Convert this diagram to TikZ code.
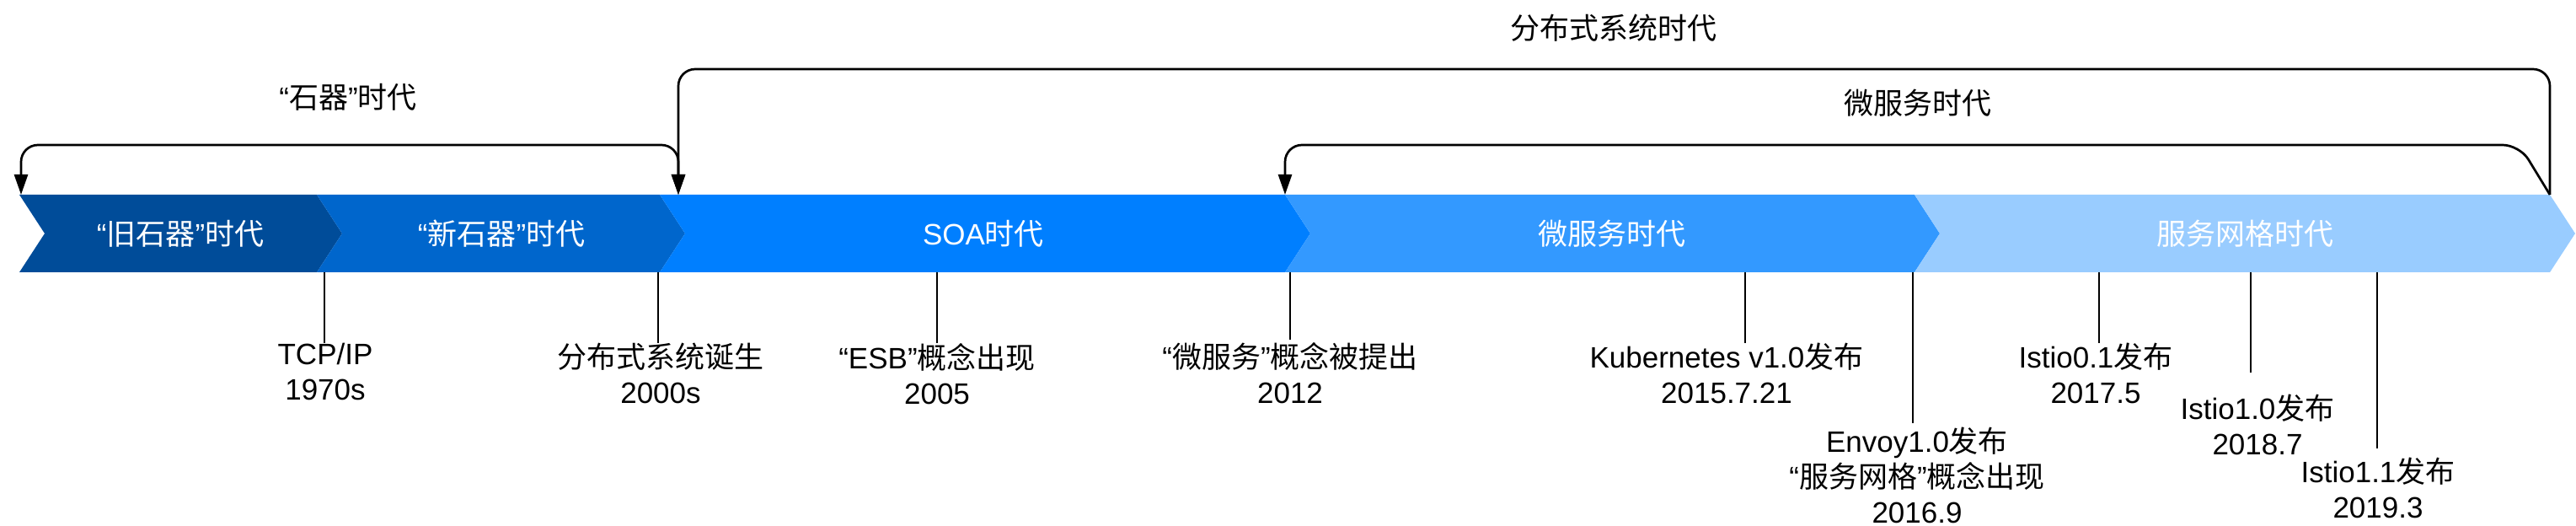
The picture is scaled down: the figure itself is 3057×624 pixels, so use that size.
\documentclass[tikz,border=0pt]{standalone}
\usepackage{fontspec}
\setmainfont{Liberation Sans}
\newfontfamily\cjk{Noto Sans CJK SC}
\usetikzlibrary{arrows.meta}
\definecolor{cA}{HTML}{004C99}
\definecolor{cB}{HTML}{0066CC}
\definecolor{cC}{HTML}{007FFF}
\definecolor{cD}{HTML}{3399FF}
\definecolor{cE}{HTML}{99CCFF}
\newcommand{\zh}[1]{{\cjk #1}}
\begin{document}
\begin{tikzpicture}[x=0.5pt,y=-0.5pt,
  chev/.style={fill=#1,draw=none},
  wlab/.style={font=\fontsize{17.5}{21}\selectfont,text=white,inner sep=0pt},
  toplab/.style={font=\fontsize{17.5}{21}\selectfont,inner sep=0pt},
  lab/.style={font=\fontsize{17.5}{21}\selectfont,align=center,inner sep=0pt,anchor=north},
  conn/.style={line width=1.35pt,rounded corners=10pt},
  tip/.style={-{Triangle[length=12pt,width=8pt]}},
  ticks/.style={line width=1pt}]
\useasboundingbox (0,0) rectangle (3057,624);
% chevrons
\fill[chev=cA] (23,231) -- (376,231) -- (406,277) -- (376,323) -- (23,323) -- (53,277) -- cycle;
\fill[chev=cB] (376,231) -- (783,231) -- (813,277) -- (783,323) -- (376,323) -- (406,277) -- cycle;
\fill[chev=cC] (783,231) -- (1525,231) -- (1555,277) -- (1525,323) -- (783,323) -- (813,277) -- cycle;
\fill[chev=cD] (1525,231) -- (2272,231) -- (2302,277) -- (2272,323) -- (1525,323) -- (1555,277) -- cycle;
\fill[chev=cE] (2272,231) -- (3026,231) -- (3056,277) -- (3026,323) -- (2272,323) -- (2302,277) -- cycle;
\node[wlab] (e1) at (214,277) {“\zh{旧石器}”\zh{时代}};
\node[wlab] (e2) at (595,277) {“\zh{新石器}”\zh{时代}};
\node[wlab] (e3) at (1167,277) {SOA\zh{时代}};
\node[wlab] (e4) at (1913,277) {\zh{微服务时代}};
\node[wlab] (e5) at (2664,277) {\zh{服务网格时代}};
% top connectors
\coordinate (s1) at (25,231);
\coordinate (s2) at (805,231);
\coordinate (s3) at (1525,231);
\coordinate (s4) at (3026,231);
\draw[conn,{Triangle[length=12pt,width=8pt]}-{Triangle[length=12pt,width=8pt]}] (s1) -- (25,172) -- (805,172) -- (s2);
\draw[conn,tip] (s4) -- (3026,82) -- (805,82) -- (s2);
\draw[conn,tip] (s4) -- (2990,172) -- (1525,172) -- (s3);
\node[toplab] (l1) at (413,115) {“\zh{石器}”\zh{时代}};
\node[toplab] (l2) at (1915,33) {\zh{分布式系统时代}};
\node[toplab] (l3) at (2276,122) {\zh{微服务时代}};
% bottom labels
\node[lab] (b1) at (386,407) {TCP/IP\\1970s};
\node[lab] (b2) at (784,407) {\zh{分布式系统诞生}\\2000s};
\node[lab] (b3) at (1112,407) {“ESB”\zh{概念出现}\\2005};
\node[lab] (b4) at (1531,406) {“\zh{微服务}”\zh{概念被提出}\\2012};
\node[lab] (b5) at (2049,407) {Kubernetes v1.0\zh{发布}\\2015.7.21};
\node[lab] (b6) at (2275,507) {Envoy1.0\zh{发布}\\“\zh{服务网格}”\zh{概念出现}\\2016.9};
\node[lab] (b7) at (2487,407) {Istio0.1\zh{发布}\\2017.5};
\node[lab] (b8) at (2679,468) {Istio1.0\zh{发布}\\2018.7};
\node[lab] (b9) at (2822,543) {Istio1.1\zh{发布}\\2019.3};
% ticks
\foreach \i/\x/\y in {1/385/407,2/781/407,3/1112/407,4/1531/403,5/2071/407,6/2270/502,7/2491/407,8/2671/442,9/2821/532}{
  \coordinate (t\i) at (\x,323);
  \coordinate (u\i) at (\x,\y);
  \draw[ticks] (t\i) -- (u\i);
}
\end{tikzpicture}
\end{document}
